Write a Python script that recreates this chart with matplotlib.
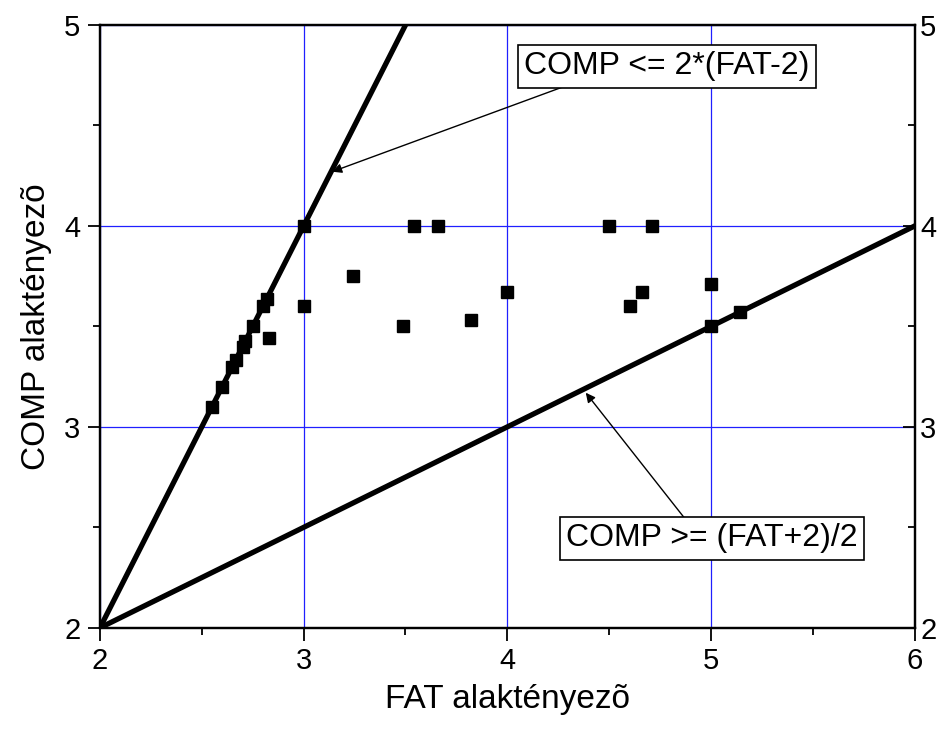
import numpy as np
import matplotlib
matplotlib.use("Agg")
import matplotlib.pyplot as plt
from matplotlib.ticker import MultipleLocator

plt.rcParams['font.family'] = ['Liberation Sans', 'DejaVu Sans']

# measured points (FAT, COMP)
fat = [2.55, 2.60, 2.65, 2.667, 2.70, 2.714, 2.75, 2.80, 2.818, 2.83,
       3.00, 3.00, 3.24, 3.49, 3.54, 3.66, 3.82, 4.00, 4.50, 4.60,
       4.66, 4.71, 5.00, 5.00, 5.14]
comp = [3.10, 3.20, 3.30, 3.333, 3.40, 3.429, 3.50, 3.60, 3.636, 3.44,
        4.00, 3.60, 3.75, 3.50, 4.00, 4.00, 3.53, 3.67, 4.00, 3.60,
        3.67, 4.00, 3.71, 3.50, 3.57]

# boundary lines
upper_x = [2.0, 3.5]
upper_y = [2.0, 5.0]
lower_x = [2.0, 6.0]
lower_y = [2.0, 4.0]

label_upper = "COMP <= 2*(FAT-2)"
label_lower = "COMP >= (FAT+2)/2"


def main():
    fig = plt.figure(figsize=(9.43, 7.36), dpi=100)
    ax = fig.add_axes([0.106, 0.147, 0.864, 0.819])

    ax.set_xlim(2, 6)
    ax.set_ylim(2, 5)

    ax.grid(True, which='major', color='#2020ff', linewidth=0.9)
    ax.set_axisbelow(True)

    ax.plot(upper_x, upper_y, color='black', linewidth=3.8, zorder=3)
    ax.plot(lower_x, lower_y, color='black', linewidth=3.8, zorder=3)
    ax.plot(fat, comp, 's', color='black', markersize=9, zorder=4)

    ax.xaxis.set_major_locator(MultipleLocator(1))
    ax.xaxis.set_minor_locator(MultipleLocator(0.5))
    ax.yaxis.set_major_locator(MultipleLocator(1))
    ax.yaxis.set_minor_locator(MultipleLocator(0.5))

    ax.tick_params(axis='x', which='major', direction='out', length=9,
                   width=1.3, labelsize=21, pad=5)
    ax.tick_params(axis='x', which='minor', direction='out', length=5,
                   width=1.3)
    ax.tick_params(axis='y', which='major', direction='out', length=9,
                   width=1.3, labelsize=21, pad=5)
    ax.tick_params(axis='y', which='minor', direction='out', length=5,
                   width=1.3)

    # right axis: inward ticks with labels
    ax2 = ax.twinx()
    ax2.set_ylim(2, 5)
    ax2.yaxis.set_major_locator(MultipleLocator(1))
    ax2.yaxis.set_minor_locator(MultipleLocator(0.5))
    ax2.tick_params(axis='y', which='major', direction='in', length=9,
                    width=1.3, labelsize=21, pad=4)
    ax2.tick_params(axis='y', which='minor', direction='in', length=5,
                    width=1.3)

    for a in (ax, ax2):
        for s in a.spines.values():
            s.set_linewidth(1.6)

    ax.set_xlabel("FAT alaktényezõ", fontsize=24, labelpad=6)
    ax.set_ylabel("COMP alaktényezõ", fontsize=24, labelpad=9)

    ax.annotate(label_upper, xy=(3.14, 4.27), xytext=(4.083, 4.795),
                fontsize=23, va='center', ha='left',
                bbox=dict(boxstyle='square,pad=0.2', fc='white',
                          ec='black', lw=1.2),
                arrowprops=dict(arrowstyle='-|>', color='black', lw=1.0,
                                mutation_scale=14, shrinkA=0, shrinkB=0,
                                patchA=None, relpos=(0.19, 0.0)),
                zorder=5)
    ax.annotate(label_lower, xy=(4.385, 3.17), xytext=(4.289, 2.445),
                fontsize=23, va='center', ha='left',
                bbox=dict(boxstyle='square,pad=0.2', fc='white',
                          ec='black', lw=1.2),
                arrowprops=dict(arrowstyle='-|>', color='black', lw=1.0,
                                mutation_scale=14, shrinkA=0, shrinkB=0,
                                patchA=None, relpos=(0.42, 1.0)),
                zorder=5)

    fig.savefig("out.png", dpi=100)


if __name__ == "__main__":
    main()
